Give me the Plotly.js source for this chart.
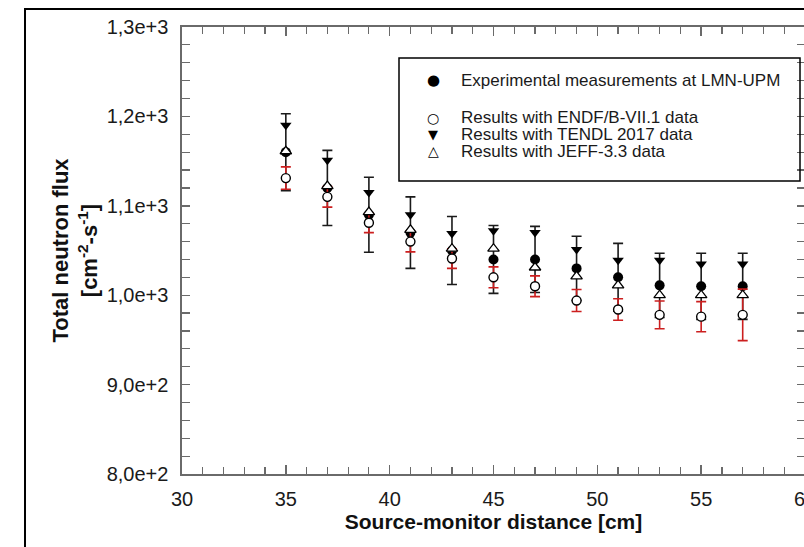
<!DOCTYPE html>
<html>
<head>
<meta charset="utf-8">
<script src="https://cdn.plot.ly/plotly-3.0.1.min.js"></script>
<style>
  html, body { margin: 0; padding: 0; overflow: hidden; background: #fff; }
  #chart { width: 830px; height: 547px; }
</style>
</head>
<body>
<div id="chart"></div>
<script>
// ---- data ----
const distanceCm = [35, 37, 39, 41, 43, 45, 47, 49, 51, 53, 55, 57];
const expFlux    = [1160, 1120, 1090, 1070, 1050, 1040, 1040, 1030, 1020, 1011, 1010, 1010];
const expErr     = [43, 42, 42, 40, 38, 38, 37, 36, 38, 36, 37, 37];
const endfFlux   = [1131, 1110, 1081, 1060, 1041, 1020, 1010, 994, 984, 978, 976, 978];
const endfErr    = [12.5, 11.5, 11, 11.5, 11, 11.7, 11.6, 12.3, 12, 15.5, 16.8, 28.8];
const tendlFlux  = [1190, 1151, 1115, 1090, 1069, 1072, 1070, 1051, 1039, 1039, 1035, 1035];
const jeffFlux   = [1161, 1122, 1093, 1073, 1052, 1052, 1031, 1021, 1011, 1000, 1000, 1000];
const seriesNames = [
  "Experimental measurements at LMN-UPM",
  "Results with ENDF/B-VII.1 data",
  "Results with TENDL 2017 data",
  "Results with JEFF-3.3 data"
];
const legendGlyphs = ["\u25CF", "\u25CB", "\u25BC", "\u25B3"];
const xTitle = "Source-monitor distance [cm]";
const yTitle = "Total neutron flux<br>[cm<sup>-2</sup>-s<sup>-1</sup>]";

const FONT = "'Liberation Sans', Arial, Helvetica, sans-serif";
const AX = '#6a6a6a';

const traces = [
  {
    x: distanceCm, y: expFlux, name: seriesNames[0], type: 'scatter', mode: 'markers',
    marker: { symbol: 'circle', size: 10, color: '#000', line: { width: 0 } },
    error_y: { type: 'data', array: expErr, visible: true, color: '#1a1a1a', thickness: 1.6, width: 5 }
  },
  {
    x: distanceCm, y: endfFlux, name: seriesNames[1], type: 'scatter', mode: 'markers',
    marker: { symbol: 'circle', size: 9, color: '#fff', line: { width: 1.4, color: '#000' } },
    error_y: { type: 'data', array: endfErr, visible: true, color: '#cc1f1f', thickness: 1.6, width: 5 }
  },
  {
    x: distanceCm, y: tendlFlux, name: seriesNames[2], type: 'scatter', mode: 'markers',
    marker: { symbol: 'triangle-down', size: 10, color: '#000', line: { width: 0 } }
  },
  {
    x: distanceCm, y: jeffFlux, name: seriesNames[3], type: 'scatter', mode: 'markers',
    marker: { symbol: 'triangle-up', size: 10, color: '#fff', line: { width: 1.3, color: '#000' } }
  }
];

// ---- hand-built legend (box, glyphs, labels) in paper coordinates ----
const PL = 182, PR = 805, PT = 27, PB = 474;          // plot area in pixels
const px2x = p => (p - PL) / (PR - PL);
const px2y = p => (PB - p) / (PB - PT);
const legendRowsPx = [80, 118, 134.5, 151];
const legendGlyphSizes = [15, 14, 13, 14];
const annotations = [];
seriesNames.forEach((name, i) => {
  annotations.push({
    xref: 'paper', yref: 'paper', x: px2x(433), y: px2y(legendRowsPx[i]),
    xanchor: 'center', yanchor: 'middle', showarrow: false,
    text: legendGlyphs[i],
    font: { family: "'DejaVu Sans', sans-serif", size: legendGlyphSizes[i], color: '#000' }
  });
  annotations.push({
    xref: 'paper', yref: 'paper', x: px2x(459), y: px2y(legendRowsPx[i]),
    xanchor: 'left', yanchor: 'middle', showarrow: false,
    text: name,
    font: { family: FONT, size: 17, color: '#1a1a1a' }
  });
});

const layout = {
  width: 830, height: 547,
  margin: { l: PL, r: 830 - PR, t: PT, b: 547 - PB },
  paper_bgcolor: '#fff', plot_bgcolor: '#fff',
  separators: ',.',
  font: { family: FONT, color: '#1a1a1a' },
  showlegend: false,
  xaxis: {
    range: [30, 60], dtick: 5, tick0: 30,
    showgrid: false, zeroline: false,
    showline: true, linecolor: AX, linewidth: 1.6, mirror: 'ticks',
    ticks: 'inside', ticklen: 9, tickwidth: 1.4, tickcolor: AX,
    minor: { dtick: 1, ticks: 'inside', ticklen: 7, tickwidth: 1.2, tickcolor: AX, showgrid: false },
    tickfont: { family: FONT, size: 20, color: '#1a1a1a' },
    ticklabelstandoff: 6,
    title: { text: xTitle, font: { family: FONT, size: 21, weight: 700, color: '#111' }, standoff: 6 }
  },
  yaxis: {
    range: [800, 1300], dtick: 100, tick0: 800, tickformat: '.1e',
    showgrid: false, zeroline: false,
    showline: true, linecolor: AX, linewidth: 1.6, mirror: 'ticks',
    ticks: 'inside', ticklen: 8, tickwidth: 1.4, tickcolor: AX,
    minor: { dtick: 20, ticks: 'inside', ticklen: 8, tickwidth: 1.2, tickcolor: AX, showgrid: false },
    tickfont: { family: FONT, size: 20, color: '#1a1a1a' },
    ticklabelstandoff: 8,
    title: { text: yTitle, font: { family: FONT, size: 22, weight: 700, color: '#111' }, standoff: 3 }
  },
  annotations: annotations,
  shapes: [
    { type: 'rect', xref: 'paper', yref: 'paper', x0: -0.252, x1: 1.2, y0: -0.3, y1: 1.0403,
      line: { color: '#000', width: 2 }, fillcolor: 'rgba(0,0,0,0)', layer: 'below' },
    { type: 'rect', xref: 'paper', yref: 'paper', x0: px2x(399), x1: px2x(800), y0: px2y(181), y1: px2y(58),
      line: { color: '#000', width: 1.5 }, fillcolor: 'rgba(0,0,0,0)', layer: 'above' }
  ]
};

Plotly.newPlot('chart', traces, layout, { displayModeBar: false, staticPlot: true });
</script>
</body>
</html>
